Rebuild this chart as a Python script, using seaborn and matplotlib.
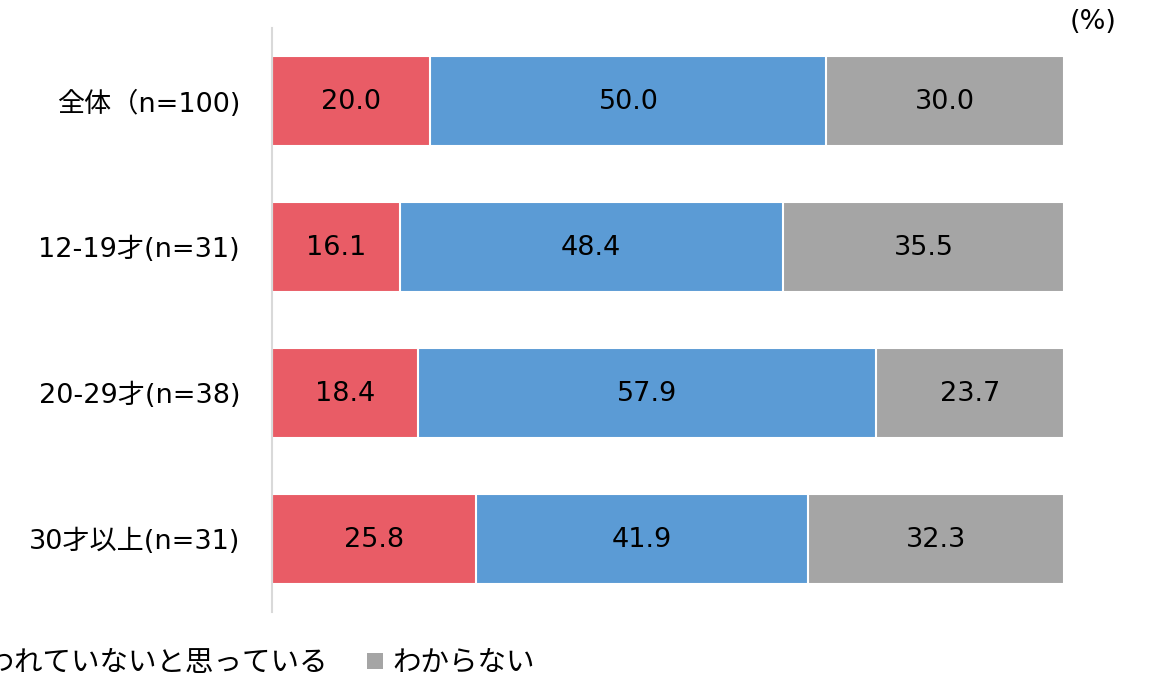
import matplotlib.pyplot as plt
import seaborn as sns
import pandas as pd
from matplotlib.patches import Patch

# data
groups = ['全体（n=100)', '12-19才(n=31)', '20-29才(n=38)', '30才以上(n=31)']
series = ['思われていると思っている', '思われていないと思っている', 'わからない']
think_yes = [20.0, 16.1, 18.4, 25.8]
think_no = [50.0, 48.4, 57.9, 41.9]
dont_know = [30.0, 35.5, 23.7, 32.3]
colors = ['#E95C66', '#5B9BD5', '#A5A5A5']

sns.set_theme(style='white')
# wide latin glyphs first, japanese falls back to Noto CJK
plt.rcParams['font.family'] = ['DejaVu Sans', 'Noto Sans CJK JP']
plt.rcParams['text.color'] = 'black'

FS = 19.5

fig = plt.figure(figsize=(11.5, 6.77), dpi=100)
ax = fig.add_axes([272 / 1150, 1 - 612 / 677, (1064 - 272) / 1150, (612 - 28) / 677])

values = [think_yes, think_no, dont_know]
cum = []
running = [0.0] * len(groups)
for v in values:
    running = [r + x for r, x in zip(running, v)]
    cum.append(list(running))

# stacked bars: draw the longest (cumulative) first
for i in reversed(range(len(series))):
    df = pd.DataFrame({'group': groups, 'value': cum[i]})
    sns.barplot(data=df, x='value', y='group', orient='h', color=colors[i],
                width=0.61, edgecolor='white', linewidth=1.5, ax=ax, saturation=1)

# value labels
for i in range(len(series)):
    for j in range(len(groups)):
        left = cum[i][j] - values[i][j]
        ax.text(left + values[i][j] / 2, j + 0.01, f'{values[i][j]:.1f}',
                ha='center', va='center', fontsize=FS, color='black')

ax.set_xlim(0, 100)
ax.set_ylim(3.5, -0.5)
ax.set_xlabel('')
ax.set_ylabel('')
ax.set_xticks([])
ax.tick_params(axis='y', labelsize=FS, length=0, pad=23, labelcolor='black')
for s in ['top', 'right', 'bottom']:
    ax.spines[s].set_visible(False)
ax.spines['left'].set_color('#D9D9D9')
ax.spines['left'].set_linewidth(1.5)

fig.text(1093 / 1150, 1 - 22 / 677, '(%)', ha='center', va='center', fontsize=FS)

handles = [Patch(facecolor=c, edgecolor='none') for c in colors]
fig.legend(handles, series, ncol=3, loc='center right', frameon=False,
           bbox_to_anchor=(535 / 1150, 1 - 663 / 677), fontsize=20.5,
           handlelength=0.53, handleheight=0.53, handletextpad=0.35,
           columnspacing=1.37, borderpad=0, borderaxespad=0)

fig.savefig('out.png', dpi=100)
